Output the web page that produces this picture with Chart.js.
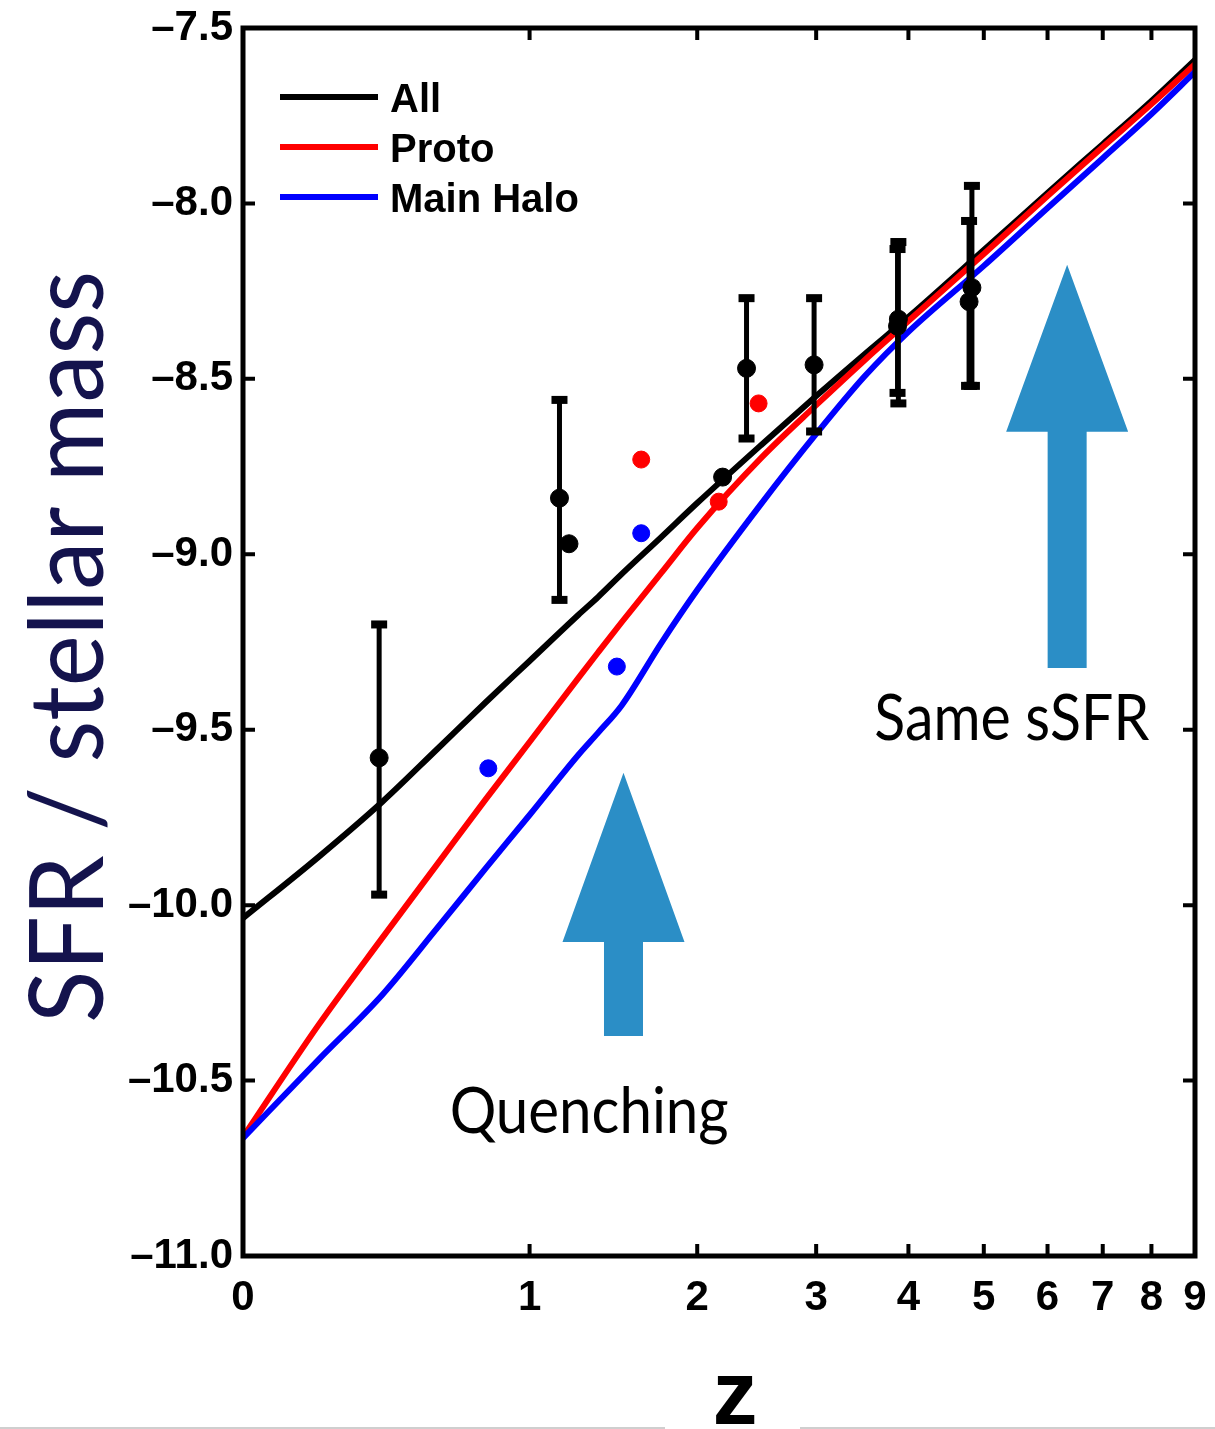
<!DOCTYPE html>
<html>
<head>
<meta charset="utf-8">
<script src="https://cdn.jsdelivr.net/npm/chart.js@4.4.1/dist/chart.umd.min.js"></script>
<style>
  html, body { margin: 0; padding: 0; background: #fff; }
  #wrap { width: 1215px; height: 1429px; position: relative; }
</style>
</head>
<body>
<div id="wrap"><canvas id="grafica_ssfr"></canvas></div>
<script>
// redshift grid of the model curves
const zGrid = [0, 0.2, 0.4, 0.6, 0.8, 1, 1.25, 1.36, 1.5, 1.75, 2, 2.5, 3, 3.5, 4, 5, 6, 7, 8, 9];
const ssfrAll   = [-10.037, -9.863, -9.706, -9.555, -9.421, -9.304, -9.173, -9.122, -9.056, -8.951, -8.854, -8.689, -8.549, -8.429, -8.324, -8.133, -7.970, -7.831, -7.708, -7.591];
const ssfrProto = [-10.661, -10.342, -10.094, -9.883, -9.697, -9.535, -9.353, -9.280, -9.193, -9.053, -8.925, -8.726, -8.575, -8.446, -8.335, -8.144, -7.979, -7.839, -7.717, -7.603];
const ssfrMain  = [-10.664, -10.441, -10.256, -10.065, -9.894, -9.743, -9.572, -9.509, -9.430, -9.253, -9.102, -8.857, -8.657, -8.492, -8.366, -8.178, -8.013, -7.871, -7.745, -7.625];

// observations (black, with error bars)
const obsZ  = [0.39, 1.15, 1.20, 2.19, 2.38, 2.98, 3.88, 3.87, 4.83, 4.79];
const obsY  = [-9.58, -8.84, -8.97, -8.78, -8.47, -8.46, -8.33, -8.35, -8.24, -8.28];
const obsHi = [-9.20, -8.56, null, null, -8.27, -8.27, -8.11, -8.13, -7.95, -8.05];
const obsLo = [-9.97, -9.13, null, null, -8.67, -8.65, -8.57, -8.54, -8.52, -8.52];

// simulated points
const protoZ = [1.62, 2.16, 2.48];
const protoY = [-8.73, -8.85, -8.57];
const mainZ  = [0.81, 1.47, 1.62];
const mainY  = [-9.61, -9.32, -8.94];

const zTicks = [0, 1, 2, 3, 4, 5, 6, 7, 8, 9];
const yTicks = [-11, -10.5, -10, -9.5, -9, -8.5, -8, -7.5];
const seriesNames = ["All", "Proto", "Main Halo"];
const seriesColors = ["#000000", "#ff0000", "#0000ff"];

// arrows and notes, in data units
const notas = {
  arrows: [
    {z: 1.51, tip: -9.623, neck: -10.105, tail: -10.373},
    {z: 6.34, tip: -8.175, neck: -8.651, tail: -9.324}
  ],
  labels: [
    {text: "Quenching", z: 1.31, y: -10.649, width: 279},
    {text: "Same sSFR", z: 5.42, y: -9.529, width: 275}
  ]
};

function puntos(zs, ys) {
  return zs.map((z, i) => ({x: 1 + z, y: ys[i]}));
}

function textoAjustado(ctx, text, x, y, font, width, angle) {
  ctx.save();
  ctx.font = font;
  const w = ctx.measureText(text).width;
  ctx.translate(x, y);
  if (angle) ctx.rotate(angle);
  ctx.scale(width / w, 1);
  ctx.textAlign = "center";
  ctx.textBaseline = "alphabetic";
  ctx.fillText(text, 0, 0);
  ctx.restore();
}

const decorado = {
  id: "decorado",
  beforeDatasetDraw(chart, args) {
    if (args.index !== 0) return;
    const {ctx, scales: {x, y}} = chart;
    ctx.save();
    ctx.strokeStyle = "#000";
    ctx.fillStyle = "#000";
    ctx.lineWidth = 5;
    obsZ.forEach((z, i) => {
      if (obsHi[i] == null) return;
      const px = x.getPixelForValue(1 + z);
      const top = y.getPixelForValue(obsHi[i]);
      const bot = y.getPixelForValue(obsLo[i]);
      ctx.beginPath();
      ctx.moveTo(px, top);
      ctx.lineTo(px, bot);
      ctx.stroke();
      ctx.fillRect(px - 8, top - 4, 16, 8);
      ctx.fillRect(px - 8, bot - 4, 16, 8);
    });
    ctx.restore();
  },
  afterDraw(chart) {
    const {ctx, chartArea: a, scales: {x, y}} = chart;
    ctx.save();

    // arrows
    ctx.fillStyle = "#2b8ec6";
    notas.arrows.forEach(ar => {
      const cx = x.getPixelForValue(1 + ar.z);
      const tip = y.getPixelForValue(ar.tip);
      const neck = y.getPixelForValue(ar.neck);
      const tail = y.getPixelForValue(ar.tail);
      ctx.beginPath();
      ctx.moveTo(cx, tip);
      ctx.lineTo(cx + 61, neck);
      ctx.lineTo(cx + 19.5, neck);
      ctx.lineTo(cx + 19.5, tail);
      ctx.lineTo(cx - 19.5, tail);
      ctx.lineTo(cx - 19.5, neck);
      ctx.lineTo(cx - 61, neck);
      ctx.closePath();
      ctx.fill();
    });

    // notes
    ctx.fillStyle = "#000";
    notas.labels.forEach(l => {
      textoAjustado(ctx, l.text, x.getPixelForValue(1 + l.z), y.getPixelForValue(l.y),
        "63px Lato", l.width, 0);
    });

    // frame and inward ticks
    ctx.strokeStyle = "#000";
    ctx.lineWidth = 5;
    ctx.strokeRect(a.left, a.top, a.width, a.height);
    ctx.lineWidth = 4;
    ctx.beginPath();
    zTicks.forEach(z => {
      const px = x.getPixelForValue(1 + z);
      ctx.moveTo(px, a.bottom); ctx.lineTo(px, a.bottom - 12);
      ctx.moveTo(px, a.top); ctx.lineTo(px, a.top + 12);
    });
    yTicks.forEach(v => {
      const py = y.getPixelForValue(v);
      ctx.moveTo(a.left, py); ctx.lineTo(a.left + 12, py);
      ctx.moveTo(a.right, py); ctx.lineTo(a.right - 12, py);
    });
    ctx.stroke();

    // legend, in the order of seriesNames
    const lineas = seriesNames.map(n => chart.data.datasets.find(d => d.showLine && d.label === n));
    ctx.font = "bold 40px 'Liberation Sans', Arial, sans-serif";
    ctx.textAlign = "left";
    ctx.textBaseline = "alphabetic";
    lineas.forEach((d, i) => {
      const ly = 97 + i * 50;
      ctx.strokeStyle = d.borderColor;
      ctx.lineWidth = 6;
      ctx.beginPath();
      ctx.moveTo(280, ly);
      ctx.lineTo(378, ly);
      ctx.stroke();
      ctx.fillStyle = "#000";
      ctx.fillText(d.label, 390, ly + 15);
    });

    // axis titles
    ctx.fillStyle = "#14134d";
    textoAjustado(ctx, "SFR / stellar mass", 103, 647, "102px Lato", 752, -Math.PI / 2);
    ctx.fillStyle = "#000";
    ctx.font = "bold 90px 'Liberation Sans', Arial, sans-serif";
    ctx.textAlign = "center";
    ctx.fillText("z", 735, 1424);

    // thin page edge
    ctx.fillStyle = "#cfcfcf";
    ctx.fillRect(0, 1427, 665, 2);
    ctx.fillRect(800, 1427, 415, 2);
    ctx.restore();
  }
};

new Chart("grafica_ssfr", {
  type: "scatter",
  data: {
    datasets: [
      {label: "obs", data: puntos(obsZ, obsY), backgroundColor: "#000", borderColor: "#000",
       pointRadius: 9, order: 0},
      {label: "proto pts", data: puntos(protoZ, protoY), backgroundColor: "#ff0000", borderColor: "#ff0000",
       pointRadius: 8.5, order: 0},
      {label: "main pts", data: puntos(mainZ, mainY), backgroundColor: "#0000ff", borderColor: "#0000ff",
       pointRadius: 8.5, order: 0},
      {label: seriesNames[2], data: puntos(zGrid, ssfrMain), showLine: true, borderColor: seriesColors[2],
       borderWidth: 6, pointRadius: 0, cubicInterpolationMode: "monotone", order: 1},
      {label: seriesNames[1], data: puntos(zGrid, ssfrProto), showLine: true, borderColor: seriesColors[1],
       borderWidth: 6, pointRadius: 0, cubicInterpolationMode: "monotone", order: 2},
      {label: seriesNames[0], data: puntos(zGrid, ssfrAll), showLine: true, borderColor: seriesColors[0],
       borderWidth: 6, pointRadius: 0, cubicInterpolationMode: "monotone", order: 3}
    ]
  },
  options: {
    responsive: true,
    maintainAspectRatio: false,
    animation: false,
    layout: {padding: {top: 28, right: 20, left: 0, bottom: 0}},
    plugins: {legend: {display: false}, tooltip: {enabled: false}},
    scales: {
      x: {
        type: "logarithmic",
        min: 1,
        max: 10,
        grid: {display: false, drawTicks: false},
        border: {display: false},
        afterBuildTicks: s => { s.ticks = zTicks.map(z => ({value: 1 + z})); },
        afterFit: s => { s.height = 173; s.paddingLeft = 0; s.paddingRight = 0; },
        ticks: {
          autoSkip: false, maxRotation: 0, padding: 17, color: "#000",
          font: {family: "'Liberation Sans', Arial, sans-serif", size: 42, weight: "bold"},
          callback: v => String(Math.round(v - 1))
        }
      },
      y: {
        min: -11,
        max: -7.5,
        grid: {display: false, drawTicks: false},
        border: {display: false},
        afterBuildTicks: s => { s.ticks = yTicks.map(v => ({value: v})); },
        afterFit: s => { s.width = 243; s.paddingTop = 0; s.paddingBottom = 0; },
        ticks: {
          padding: 10, color: "#000",
          font: {family: "'Liberation Sans', Arial, sans-serif", size: 42, weight: "bold"},
          callback: v => v.toFixed(1).replace("-", "\u2013")
        }
      }
    }
  },
  plugins: [decorado]
});
</script>
</body>
</html>
